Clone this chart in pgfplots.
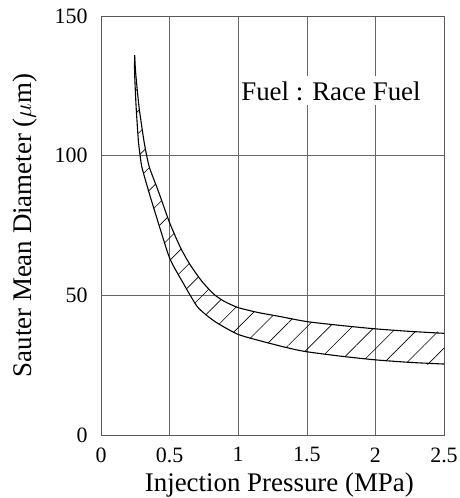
\documentclass[border=0pt]{standalone}
\usepackage{fontspec}
\setmainfont{Liberation Serif}
\usepackage{pgfplots}
\pgfplotsset{compat=1.18}
\usetikzlibrary{patterns.meta, calc}

\begin{document}
\begin{tikzpicture}
  \begin{axis}[
      scale only axis,
      width=343bp, height=419bp,
      xmin=0, xmax=2.5, ymin=0, ymax=150,
      xtick={0,0.5,1,1.5,2,2.5},
      ytick={0,50,100,150},
      grid=major,
      grid style={black!60, line width=0.6bp},
      axis line style={black!65, line width=0.8bp},
      major tick length=0pt,
      /pgf/number format/assume math mode=true,
      tick label style={font=\fontsize{22}{22}\selectfont},
      xticklabel style={yshift=-9bp},
      yticklabel style={xshift=-10bp},
      label style={font=\fontsize{27}{27}\selectfont},
      xlabel={Injection Pressure (MPa)},
      ylabel={Sauter Mean Diameter ($\mu$m)},
      xlabel style={at={(axis description cs:0.52,-0.134)}, anchor=base},
      ylabel style={at={(axis description cs:-0.204,0.5)}, anchor=base},
    ]
    % hatched band: upper boundary, then lower boundary back to the tip
    \addplot[draw=none, smooth, tension=0.4, pattern={Lines[angle=45, distance=16bp, line width=0.6bp]}, pattern color=black] coordinates {
      (0.245,136.0) (0.253,129.5) (0.277,117.5) (0.312,105.6) (0.333,100)
      (0.355,95.5) (0.42,87) (0.5,76) (0.58,67) (0.649,61) (0.72,56)
      (0.771,53) (0.83,50.1) (0.9,47.8) (1.0,45.6) (1.15,43.8) (1.306,42.4)
      (1.5,40.6) (1.75,39.2) (2.0,38.0) (2.25,37.1) (2.5,36.4)
      (2.5,25.4) (2.25,26.0) (2.0,26.9) (1.75,28.2) (1.5,29.8) (1.378,31.0)
      (1.2,33.2) (1.0,36.0) (0.85,40.0) (0.771,42.8) (0.698,46.2) (0.6,54.3)
      (0.503,63) (0.43,74) (0.355,86) (0.30,95.5) (0.285,100) (0.272,105.6)
      (0.256,117.5) (0.245,129.5)
    } -- cycle;
    % upper boundary of the band
    \addplot[black, line width=1.1bp, smooth, tension=0.4] coordinates {
      (0.245,136.0) (0.253,129.5) (0.277,117.5) (0.312,105.6) (0.333,100)
      (0.355,95.5) (0.42,87) (0.5,76) (0.58,67) (0.649,61) (0.72,56)
      (0.771,53) (0.83,50.1) (0.9,47.8) (1.0,45.6) (1.15,43.8) (1.306,42.4)
      (1.5,40.6) (1.75,39.2) (2.0,38.0) (2.25,37.1) (2.5,36.4)
    };
    % lower boundary of the band
    \addplot[black, line width=1.1bp, smooth, tension=0.4] coordinates {
      (0.245,136.0) (0.245,129.5) (0.256,117.5) (0.272,105.6) (0.285,100)
      (0.30,95.5) (0.355,86) (0.43,74) (0.503,63) (0.6,54.3) (0.698,46.2)
      (0.771,42.8) (0.85,40.0) (1.0,36.0) (1.2,33.2) (1.378,31.0) (1.5,29.8)
      (1.75,28.2) (2.0,26.9) (2.25,26.0) (2.5,25.4)
    };
    \node[anchor=base west, fill=white, inner xsep=1bp, inner ysep=5bp,
          font=\fontsize{27}{27}\selectfont] at (axis cs:1.014,119.9) {Fuel : Race Fuel};
  \end{axis}
  \pgfresetboundingbox
  \path[use as bounding box] ($(current axis.south west)+(-101bp,-63bp)$) rectangle ($(current axis.south west)+(359bp,435bp)$);
\end{tikzpicture}
\end{document}
